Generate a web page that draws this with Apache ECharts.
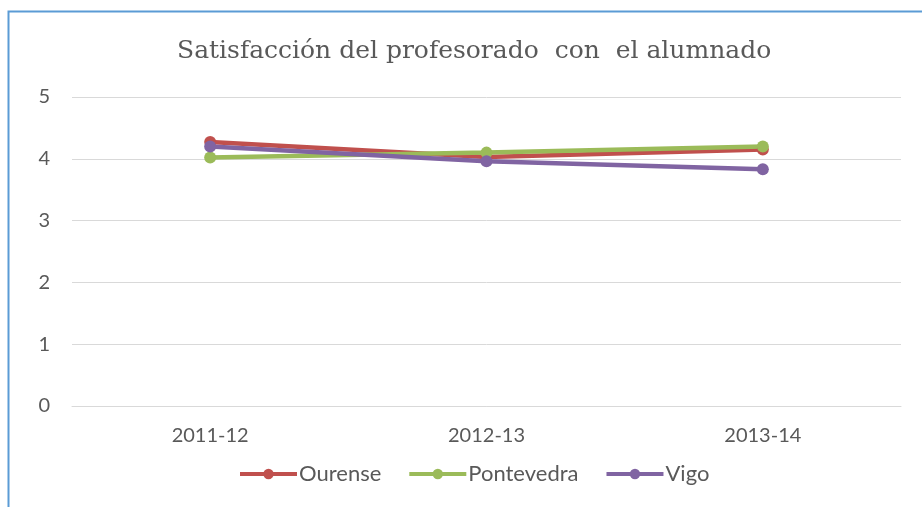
<!DOCTYPE html>
<html>
<head>
<meta charset="utf-8">
<script src="https://cdn.jsdelivr.net/npm/echarts@6/dist/echarts.min.js"></script>
<style>
html,body{margin:0;padding:0;background:#fff;}
#c{width:922px;height:507px;}
</style>
</head>
<body>
<div id="c"></div>
<script>
var categories = ['2011-12', '2012-13', '2013-14'];
var ourense = [4.27, 4.03, 4.15];
var pontevedra = [4.02, 4.10, 4.20];
var vigo = [4.20, 3.96, 3.83];
var yTicks = [0, 1, 2, 3, 4, 5];

var chart = echarts.init(document.getElementById('c'));
var labelFont = 'Lato, "Open Sans", sans-serif';
function mk(name, data, color) {
  return {
    name: name, type: 'line', data: data,
    symbol: 'circle', symbolSize: 12,
    lineStyle: {width: 4.5, color: color},
    itemStyle: {color: color},
    emphasis: {disabled: true},
    animation: false
  };
}
chart.setOption({
  animation: false,
  title: {
    text: 'Satisfacción del profesorado  con  el alumnado',
    left: 172, top: 34,
    textStyle: {fontFamily: '"DejaVu Serif", serif', fontWeight: 'normal', fontSize: 25, color: '#595959'}
  },
  graphic: [{
    type: 'rect', shape: {x: 8.5, y: 11.5, width: 1000, height: 1000},
    style: {fill: null, stroke: '#5B9BD5', lineWidth: 2}
  }],
  grid: {left: 72, right: 21, top: 97, bottom: 101},
  legend: {
    top: 458, left: 233,
    itemWidth: 57, itemHeight: 13, itemGap: 26,
    lineStyle: {width: 4},
    textStyle: {fontFamily: labelFont, fontSize: 22, color: '#595959', padding: [0,0,0,-3]},
    data: ['Ourense', 'Pontevedra', 'Vigo']
  },
  xAxis: {
    type: 'category', data: categories, boundaryGap: true,
    axisLine: {lineStyle: {color: '#d9d9d9', width: 1}},
    axisTick: {show: false},
    axisLabel: {fontFamily: labelFont, fontSize: 20, color: '#595959', margin: 20}
  },
  yAxis: {
    type: 'value', min: yTicks[0], max: yTicks[yTicks.length-1], interval: 1,
    axisLine: {show: false}, axisTick: {show: false},
    splitLine: {lineStyle: {color: '#d9d9d9', width: 1}},
    axisLabel: {fontFamily: labelFont, fontSize: 20, color: '#595959', margin: 22}
  },
  series: [
    mk('Ourense', ourense, '#C0504D'),
    mk('Pontevedra', pontevedra, '#9BBB59'),
    mk('Vigo', vigo, '#8064A2')
  ]
});
</script>
</body>
</html>
